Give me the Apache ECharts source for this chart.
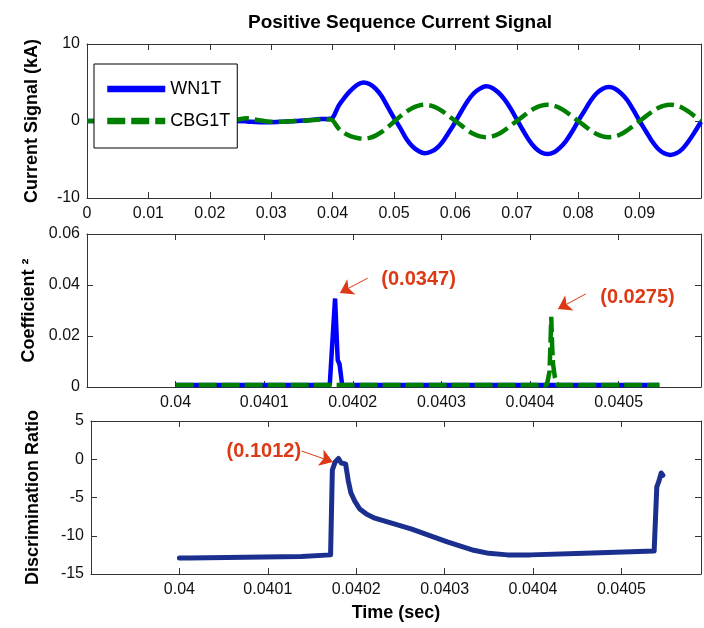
<!DOCTYPE html>
<html>
<head>
<meta charset="utf-8">
<script src="https://cdn.jsdelivr.net/npm/echarts@6/dist/echarts.min.js"></script>
<style>html,body{margin:0;padding:0;background:#fff}#c{width:704px;height:628px}</style>
</head>
<body>
<div id="c"></div>
<script>
// ---- Top panel: positive sequence current signal (kA) ----
var topTime = [0, 0.005, 0.01, 0.015, 0.02, 0.024, 0.026, 0.028, 0.03, 0.032, 0.034, 0.036, 0.038, 0.0395,
  0.040, 0.041, 0.042, 0.043, 0.044, 0.045, 0.046, 0.047, 0.048, 0.049,
  0.050, 0.051, 0.052, 0.053, 0.054, 0.055, 0.056, 0.057, 0.058, 0.059,
  0.060, 0.061, 0.062, 0.063, 0.064, 0.065, 0.066, 0.067, 0.068, 0.069,
  0.070, 0.071, 0.072, 0.073, 0.074, 0.075, 0.076, 0.077, 0.078, 0.079,
  0.080, 0.081, 0.082, 0.083, 0.084, 0.085, 0.086, 0.087, 0.088, 0.089,
  0.090, 0.091, 0.092, 0.093, 0.094, 0.095, 0.096, 0.097, 0.098, 0.099, 0.100];
var wn1t = [0, 0, 0, 0, 0, 0, -0.05, -0.15, -0.15, -0.1, 0.0, 0.1, 0.25, 0.3,
  0.4, 2.0, 3.1, 4.0, 4.7, 5.0, 4.8, 4.2, 3.2, 1.8,
  0.4, -0.9, -2.3, -3.3, -3.9, -4.2, -4.0, -3.5, -2.6, -1.4,
  -0.1, 1.3, 2.6, 3.6, 4.2, 4.5, 4.3, 3.7, 2.8, 1.6,
  0.2, -1.2, -2.5, -3.5, -4.1, -4.3, -4.1, -3.5, -2.6, -1.4,
  0.0, 1.3, 2.6, 3.6, 4.2, 4.4, 4.2, 3.6, 2.7, 1.4,
  0.0, -1.3, -2.6, -3.6, -4.2, -4.4, -4.2, -3.6, -2.6, -1.4, -0.1];
var cbg1t = [0, 0, 0, 0, 0, 0.1, 0.35, 0.1, -0.1, -0.1, 0.0, 0.05, 0.2, 0.2,
  0.1, -1.0, -1.6, -2.0, -2.2, -2.3, -2.2, -1.9, -1.4, -0.8,
  -0.1, 0.6, 1.2, 1.7, 2.0, 2.1, 2.0, 1.7, 1.2, 0.6,
  0.0, -0.6, -1.2, -1.7, -2.0, -2.1, -2.0, -1.7, -1.2, -0.6,
  0.0, 0.6, 1.2, 1.7, 2.0, 2.1, 2.0, 1.7, 1.2, 0.6,
  0.0, -0.6, -1.2, -1.7, -2.0, -2.1, -2.0, -1.7, -1.2, -0.6,
  0.0, 0.6, 1.2, 1.7, 2.0, 2.1, 2.0, 1.7, 1.2, 0.6, 0.0];

// ---- Middle panel: coefficient^2 ----
var coefWnTime = [0.04, 0.040174, 0.040177, 0.04018, 0.040182, 0.040183, 0.040185, 0.040188, 0.040546];
var coefWn     = [0.0008, 0.0008, 0.018, 0.0347, 0.018, 0.0105, 0.009, 0.0008, 0.0008];
var coefCbTime = [0.04, 0.040419, 0.040422, 0.040423, 0.040424, 0.040425, 0.040426, 0.040428, 0.040431, 0.040546];
var coefCb     = [0.0008, 0.0008, 0.006, 0.016, 0.0275, 0.016, 0.009, 0.004, 0.0008, 0.0008];

// ---- Bottom panel: discrimination ratio ----
var drTime = [0.04, 0.040011, 0.040013, 0.040138, 0.04014, 0.040171, 0.040173, 0.040176, 0.04018, 0.040183,
  0.040188, 0.040191, 0.040194, 0.040198, 0.040204, 0.040212, 0.040221, 0.040262, 0.040303, 0.040333,
  0.04035, 0.040371, 0.040397, 0.040399, 0.040458, 0.04046, 0.040537, 0.04054, 0.040542, 0.040545, 0.040547];
var drValue = [-12.9, -12.9, -12.7, -12.7, -12.5, -12.5, -1.4, -0.4, 0.1012, -0.5,
  -0.6, -2.8, -4.4, -5.4, -6.5, -7.2, -7.7, -9.1, -10.8, -11.9,
  -12.3, -12.5, -12.5, -12.3, -12.3, -12.1, -12.0, -3.6, -3.0, -1.8, -2.1];

// ---- annotations (data coordinates) ----
var annCoef = [
  {text: '(0.0347)', at: [0.0402742, 0.0420], tail: [0.0402169, 0.0427], head: [0.0401854, 0.0369]},
  {text: '(0.0275)', at: [0.0405213, 0.0353], tail: [0.0404629, 0.0365], head: [0.0404315, 0.0306]}
];
var annDr = {text: '(0.1012)', at: [0.0400955, 0.95], tail: [0.0401382, 1.08], head: [0.0401736, -0.36]};

var topTicks = {min: 0, max: 0.1, interval: 0.01};
var midTicks = {min: 0.0399, max: 0.040593, interval: 0.0001};
var botTicks = {min: 0.0399, max: 0.040590, interval: 0.0001};

function zip(a, b) { return a.map(function (v, i) { return [v, b[i]]; }); }

var FONT = "'Liberation Sans', Arial, sans-serif";
var RED = '#dc3a16';
var AX = '#333';

function xAx(grid, t, pos, fmt) {
  return {
    type: 'value', gridIndex: grid, position: pos, min: t.min, max: t.max, interval: t.interval,
    axisLine: {show: true, onZero: false, lineStyle: {color: AX, width: 1}},
    axisTick: {show: true, inside: true, length: 6, lineStyle: {color: AX}},
    splitLine: {show: false},
    axisLabel: {show: pos === 'bottom', margin: 8, color: '#111', fontSize: 16, fontFamily: FONT, formatter: fmt}
  };
}
function yAx(grid, min, max, interval, pos, fmt) {
  return {
    type: 'value', gridIndex: grid, position: pos, min: min, max: max, interval: interval,
    axisLine: {show: true, onZero: false, lineStyle: {color: AX, width: 1}},
    axisTick: {show: true, inside: true, length: 6, lineStyle: {color: AX}},
    splitLine: {show: false},
    axisLabel: {show: pos === 'left', margin: 7, color: '#111', fontSize: 16, fontFamily: FONT, formatter: fmt}
  };
}
var fmtTop = function (v) { return v > 0.0995 ? '' : String(parseFloat(v.toFixed(3))); };
var fmtZoom = function (v) { return (v < 0.03999 || v > 0.04055) ? '' : String(parseFloat(v.toFixed(4))); };
var fmtY2 = function (v) { return String(parseFloat(v.toFixed(2))); };
var nameStyle = {fontSize: 18, fontWeight: 'bold', color: '#000', fontFamily: FONT};

function annSeries(xi, yi, ann, size) {
  return [{
    type: 'line', xAxisIndex: xi, yAxisIndex: yi, data: [], silent: true,
    itemStyle: {color: RED},
    markLine: {
      silent: true, animation: false, symbol: ['none', 'arrow'], symbolSize: 13,
      label: {show: false},
      itemStyle: {color: RED},
      lineStyle: {color: RED, width: 1, type: 'solid'},
      data: ann.map(function (a) { return [{coord: a.tail}, {coord: a.head}]; })
    },
    markPoint: {
      silent: true, animation: false, symbol: 'circle', symbolSize: 0,
      label: {show: true, position: 'inside', color: RED, fontWeight: 'bold', fontSize: size, fontFamily: FONT},
      data: ann.map(function (a) { return {coord: a.at, value: a.text, label: {formatter: a.text}}; })
    }
  }];
}

var option = {
  animation: false,
  backgroundColor: '#fff',
  title: {
    text: 'Positive Sequence Current Signal', left: 395, top: 8, textAlign: 'center',
    textStyle: {fontSize: 19, fontWeight: 'bold', color: '#000', fontFamily: FONT}
  },
  legend: {
    data: ['WN1T', 'CBG1T'], orient: 'vertical', left: 94, top: 64,
    itemWidth: 58, itemHeight: 14, itemGap: 14, padding: [16, 7, 18, 10],
    backgroundColor: '#fff', borderColor: '#000', borderWidth: 1, borderRadius: 0,
    lineStyle: {width: 6.5}, itemStyle: {opacity: 0}, selectedMode: false,
    textStyle: {fontSize: 18, color: '#000', fontFamily: FONT}
  },
  grid: [
    {left: 87, top: 44, right: 0, height: 154},
    {left: 87, top: 234, right: 0, height: 153},
    {left: 91, top: 421, right: 0, height: 153}
  ],
  xAxis: [
    xAx(0, topTicks, 'bottom', fmtTop), xAx(0, topTicks, 'top', fmtTop),
    xAx(1, midTicks, 'bottom', fmtZoom), xAx(1, midTicks, 'top', fmtZoom),
    Object.assign(xAx(2, botTicks, 'bottom', fmtZoom), {name: 'Time (sec)', nameLocation: 'middle', nameGap: 30, nameTextStyle: nameStyle}),
    xAx(2, botTicks, 'top', fmtZoom)
  ],
  yAxis: [
    Object.assign(yAx(0, -10, 10, 10, 'left'), {name: 'Current Signal (kA)', nameLocation: 'middle', nameGap: 46, nameTextStyle: nameStyle}),
    yAx(0, -10, 10, 10, 'right'),
    Object.assign(yAx(1, 0, 0.06, 0.02, 'left', fmtY2), {name: 'Coefficient \u00B2', nameLocation: 'middle', nameGap: 49, nameTextStyle: nameStyle}),
    yAx(1, 0, 0.06, 0.02, 'right', fmtY2),
    Object.assign(yAx(2, -15, 5, 5, 'left'), {name: 'Discrimination Ratio', nameLocation: 'middle', nameGap: 49, nameTextStyle: nameStyle}),
    yAx(2, -15, 5, 5, 'right')
  ],
  series: [
    {name: 'WN1T', type: 'line', xAxisIndex: 0, yAxisIndex: 0, data: zip(topTime, wn1t), smooth: 0.35,
      symbol: 'none', showSymbol: false, lineStyle: {color: '#0000ff', width: 4.5}, itemStyle: {color: '#0000ff'}, z: 2},
    {name: 'CBG1T', type: 'line', xAxisIndex: 0, yAxisIndex: 0, data: zip(topTime, cbg1t), smooth: 0.35,
      symbol: 'none', showSymbol: false, lineStyle: {color: '#008000', width: 4.5, type: [18, 6]}, itemStyle: {color: '#008000'}, z: 3},
    {name: 'WN1T coef', type: 'line', xAxisIndex: 2, yAxisIndex: 2, data: zip(coefWnTime, coefWn),
      symbol: 'none', lineStyle: {color: '#0000ff', width: 4.5}, z: 2},
    {name: 'CBG1T coef', type: 'line', xAxisIndex: 2, yAxisIndex: 2, data: zip(coefCbTime, coefCb),
      symbol: 'none', lineStyle: {color: '#008000', width: 4.5, type: [18, 5]}, z: 3},
    {name: 'Discrimination Ratio', type: 'line', xAxisIndex: 4, yAxisIndex: 4, data: zip(drTime, drValue),
      symbol: 'none', lineStyle: {color: '#1b2f8e', width: 5, join: 'round', cap: 'round'}, z: 2}
  ].concat(annSeries(2, 2, annCoef, 20)).concat(annSeries(4, 4, [annDr], 20))
};

var chart = echarts.init(document.getElementById('c'), null, {renderer: 'canvas'});
chart.setOption(option);
</script>
</body>
</html>
